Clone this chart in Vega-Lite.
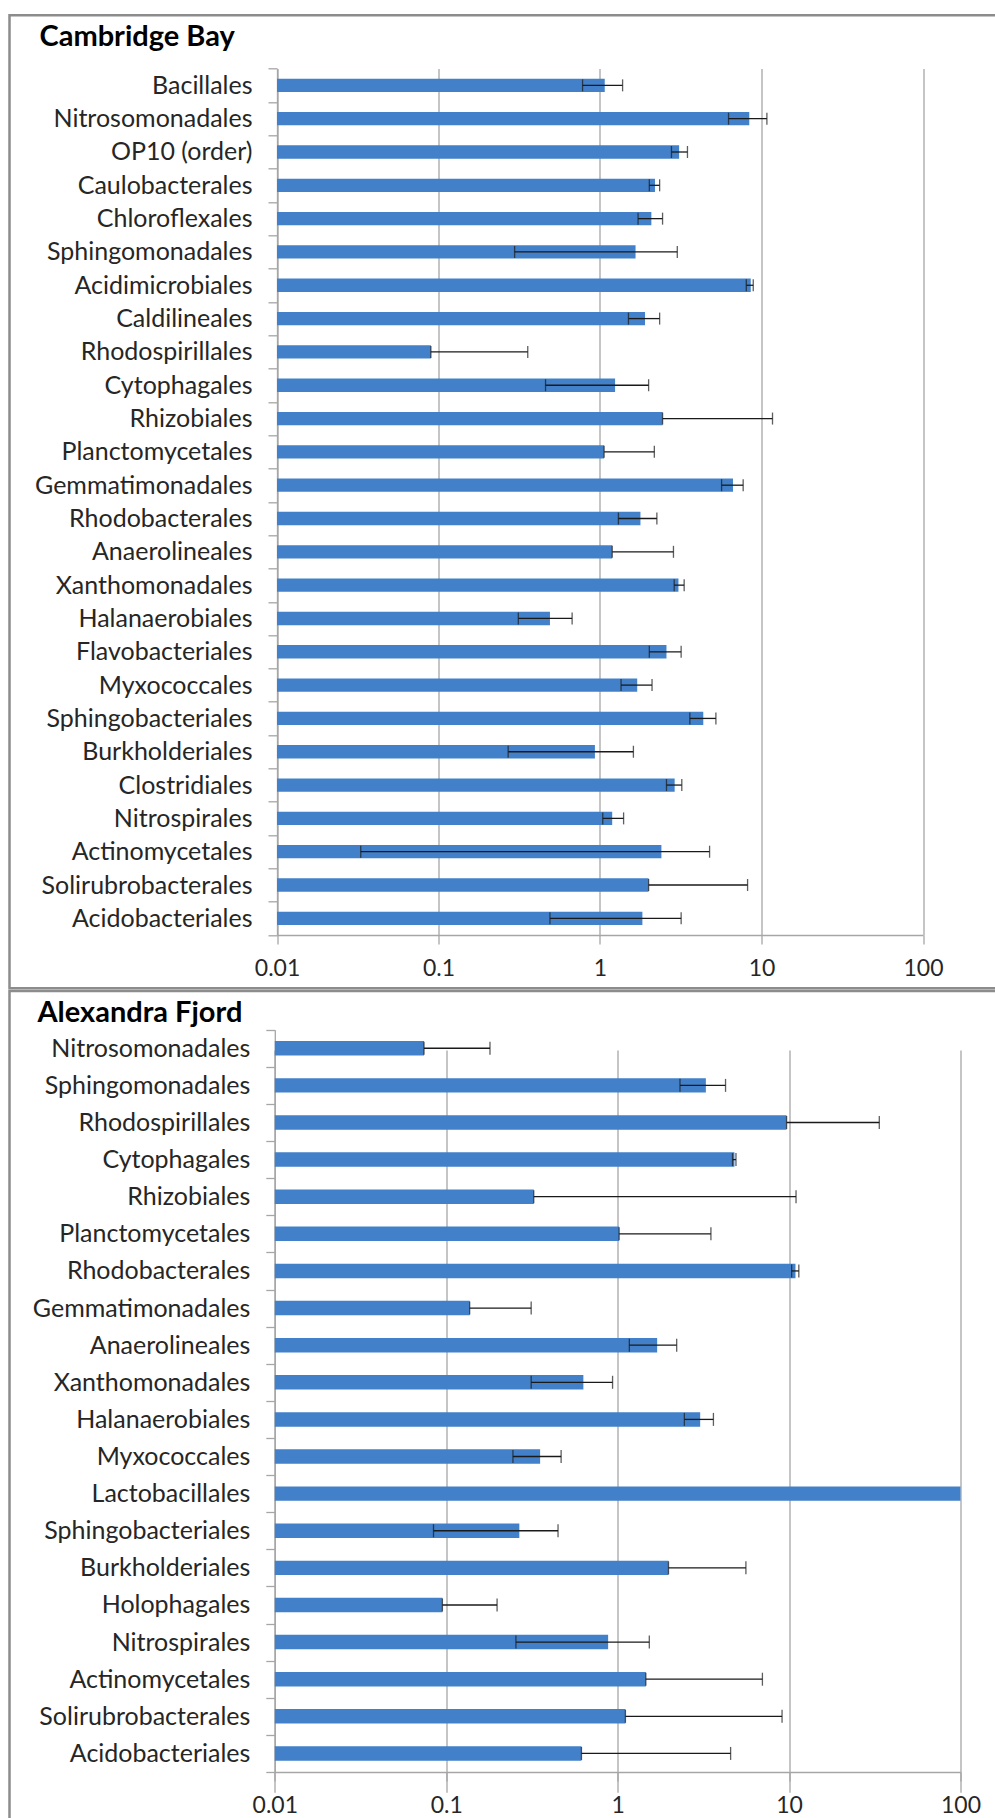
{
  "$schema": "https://vega.github.io/schema/vega-lite/v6.json",
  "background": "white",
  "padding": {"left": 7.5, "top": 1.3, "right": 0, "bottom": 0},
  "autosize": {"type": "pad"},
  "bounds": "flush",
  "spacing": 2.7,
  "datasets": {
    "cb": [
      {"name": "Bacillales", "value": 1.07, "lo": 0.78, "hi": 1.38},
      {"name": "Nitrosomonadales", "value": 8.4, "lo": 6.25, "hi": 10.8},
      {"name": "OP10 (order)", "value": 3.09, "lo": 2.77, "hi": 3.48},
      {"name": "Caulobacterales", "value": 2.19, "lo": 2.02, "hi": 2.34},
      {"name": "Chloroflexales", "value": 2.08, "lo": 1.72, "hi": 2.44},
      {"name": "Sphingomonadales", "value": 1.66, "lo": 0.296, "hi": 3.01},
      {"name": "Acidimicrobiales", "value": 8.58, "lo": 8.05, "hi": 8.89},
      {"name": "Caldilineales", "value": 1.9, "lo": 1.5, "hi": 2.34},
      {"name": "Rhodospirillales", "value": 0.0897, "lo": 0.0897, "hi": 0.357},
      {"name": "Cytophagales", "value": 1.24, "lo": 0.46, "hi": 2.0},
      {"name": "Rhizobiales", "value": 2.44, "lo": 2.44, "hi": 11.7},
      {"name": "Planctomycetales", "value": 1.06, "lo": 1.06, "hi": 2.17},
      {"name": "Gemmatimonadales", "value": 6.66, "lo": 5.66, "hi": 7.7},
      {"name": "Rhodobacterales", "value": 1.78, "lo": 1.3, "hi": 2.25},
      {"name": "Anaerolineales", "value": 1.19, "lo": 1.19, "hi": 2.85},
      {"name": "Xanthomonadales", "value": 3.06, "lo": 2.88, "hi": 3.32},
      {"name": "Halanaerobiales", "value": 0.49, "lo": 0.312, "hi": 0.672},
      {"name": "Flavobacteriales", "value": 2.58, "lo": 2.02, "hi": 3.18},
      {"name": "Myxococcales", "value": 1.7, "lo": 1.35, "hi": 2.1},
      {"name": "Sphingobacteriales", "value": 4.36, "lo": 3.6, "hi": 5.22},
      {"name": "Burkholderiales", "value": 0.93, "lo": 0.27, "hi": 1.61},
      {"name": "Clostridiales", "value": 2.9, "lo": 2.58, "hi": 3.21},
      {"name": "Nitrospirales", "value": 1.19, "lo": 1.04, "hi": 1.4},
      {"name": "Actinomycetales", "value": 2.4, "lo": 0.033, "hi": 4.77},
      {"name": "Solirubrobacterales", "value": 2.0, "lo": 2.0, "hi": 8.2},
      {"name": "Acidobacteriales", "value": 1.83, "lo": 0.49, "hi": 3.18}
    ],
    "af": [
      {"name": "Nitrosomonadales", "value": 0.0742, "lo": 0.0742, "hi": 0.18},
      {"name": "Sphingomonadales", "value": 3.27, "lo": 2.31, "hi": 4.26},
      {"name": "Rhodospirillales", "value": 9.67, "lo": 9.67, "hi": 33.6},
      {"name": "Cytophagales", "value": 4.8, "lo": 4.68, "hi": 4.9},
      {"name": "Rhizobiales", "value": 0.324, "lo": 0.324, "hi": 10.98},
      {"name": "Planctomycetales", "value": 1.02, "lo": 1.02, "hi": 3.5},
      {"name": "Rhodobacterales", "value": 10.9, "lo": 10.35, "hi": 11.4},
      {"name": "Gemmatimonadales", "value": 0.137, "lo": 0.137, "hi": 0.313},
      {"name": "Anaerolineales", "value": 1.7, "lo": 1.17, "hi": 2.21},
      {"name": "Xanthomonadales", "value": 0.631, "lo": 0.313, "hi": 0.934},
      {"name": "Halanaerobiales", "value": 3.03, "lo": 2.45, "hi": 3.62},
      {"name": "Myxococcales", "value": 0.353, "lo": 0.245, "hi": 0.468},
      {"name": "Lactobacillales", "value": 100, "lo": null, "hi": null},
      {"name": "Sphingobacteriales", "value": 0.267, "lo": 0.0843, "hi": 0.449},
      {"name": "Burkholderiales", "value": 1.98, "lo": 1.98, "hi": 5.6},
      {"name": "Holophagales", "value": 0.095, "lo": 0.095, "hi": 0.198},
      {"name": "Nitrospirales", "value": 0.88, "lo": 0.255, "hi": 1.53},
      {"name": "Actinomycetales", "value": 1.46, "lo": 1.46, "hi": 6.99},
      {"name": "Solirubrobacterales", "value": 1.11, "lo": 1.11, "hi": 9.1},
      {"name": "Acidobacteriales", "value": 0.615, "lo": 0.615, "hi": 4.56}
    ]
  },
  "vconcat": [
    {
      "width": 987,
      "height": 973,
      "title": {"text": "Cambridge Bay", "anchor": "start", "frame": "group", "offset": -48.5, "dx": 30},
      "data": {"name": "cb"},
      "encoding": {
        "y": {
          "field": "name", "type": "nominal", "sort": null,
          "scale": {"range": [53.4, 919.7], "paddingInner": 0, "paddingOuter": 0},
          "axis": {"orient": "left", "offset": -267.5, "title": null, "tickBand": "extent", "labelPadding": 16, "labelFontSize": 25, "labelLimit": 0, "grid": false}
        }
      },
      "layer": [
        {
          "mark": {"type": "bar", "color": "#4281c9", "height": {"band": 0.4}},
          "encoding": {
            "x": {
              "field": "value", "type": "quantitative",
              "scale": {"type": "log", "domain": [0.01, 100], "range": [267.5, 913.5], "nice": false},
              "axis": {"orient": "bottom", "offset": -53.3, "title": null, "values": [0.01, 0.1, 1, 10, 100], "format": "~g", "grid": true, "labelFontSize": 23, "labelPadding": 13.5, "labelFlush": false}
            },
            "x2": {"datum": 0.01}
          }
        },
        {
          "transform": [{"filter": "isValid(datum.lo)"}],
          "mark": {"type": "rule", "color": "#1a1a1a", "strokeWidth": 1.3},
          "encoding": {"x": {"field": "lo", "type": "quantitative"}, "x2": {"field": "hi"}}
        },
        {
          "transform": [{"filter": "isValid(datum.lo)"}],
          "mark": {"type": "tick", "color": "#1a1a1a", "size": 12, "thickness": 1.3},
          "encoding": {"x": {"field": "lo", "type": "quantitative"}}
        },
        {
          "transform": [{"filter": "isValid(datum.hi)"}],
          "mark": {"type": "tick", "color": "#1a1a1a", "size": 12, "thickness": 1.3},
          "encoding": {"x": {"field": "hi", "type": "quantitative"}}
        }
      ]
    },
    {
      "width": 995,
      "height": 840,
      "title": {"text": "Alexandra Fjord", "anchor": "start", "frame": "group", "offset": -49.5, "dx": 28},
      "data": {"name": "af"},
      "encoding": {
        "y": {
          "field": "name", "type": "nominal", "sort": null,
          "scale": {"range": [38.7, 781], "paddingInner": 0, "paddingOuter": 0},
          "axis": {"orient": "left", "offset": -265.3, "title": null, "tickBand": "extent", "labelPadding": 16, "labelFontSize": 25, "labelLimit": 0, "grid": false}
        }
      },
      "layer": [
        {
          "mark": {"type": "bar", "color": "#4281c9", "height": {"band": 0.39}},
          "encoding": {
            "x": {
              "field": "value", "type": "quantitative",
              "scale": {"type": "log", "domain": [0.01, 100], "range": [265.3, 951], "nice": false},
              "axis": {"orient": "bottom", "offset": -59, "title": null, "values": [0.01, 0.1, 1, 10, 100], "format": "~g", "grid": true, "labelFontSize": 23, "labelPadding": 13.5, "labelFlush": false}
            },
            "x2": {"datum": 0.01}
          }
        },
        {
          "transform": [{"filter": "isValid(datum.lo)"}],
          "mark": {"type": "rule", "color": "#1a1a1a", "strokeWidth": 1.3},
          "encoding": {"x": {"field": "lo", "type": "quantitative"}, "x2": {"field": "hi"}}
        },
        {
          "transform": [{"filter": "isValid(datum.lo)"}],
          "mark": {"type": "tick", "color": "#1a1a1a", "size": 13, "thickness": 1.3},
          "encoding": {"x": {"field": "lo", "type": "quantitative"}}
        },
        {
          "transform": [{"filter": "isValid(datum.hi)"}],
          "mark": {"type": "tick", "color": "#1a1a1a", "size": 13, "thickness": 1.3},
          "encoding": {"x": {"field": "hi", "type": "quantitative"}}
        }
      ]
    }
  ],
  "config": {
    "view": {"stroke": "#8c8c8c", "strokeWidth": 2.5},
    "axis": {
      "domainColor": "#a6a6a6", "domainWidth": 1.3,
      "tickColor": "#a6a6a6", "tickWidth": 1.3, "tickSize": 9,
      "gridColor": "#a6a6a6", "gridWidth": 1.3,
      "labelFont": "Lato", "labelColor": "#262626"
    },
    "title": {"font": "Lato", "fontSize": 29, "fontWeight": "bold", "color": "#000000"}
  }
}
